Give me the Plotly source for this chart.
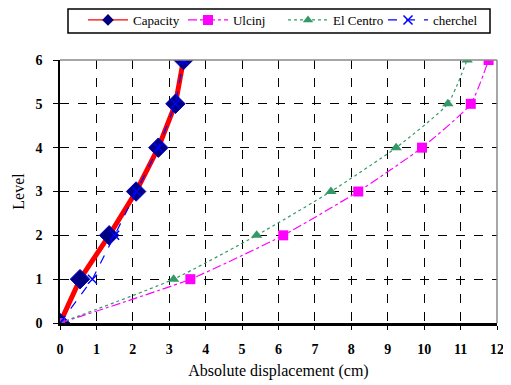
import plotly.graph_objects as go

levels = [0, 1, 2, 3, 4, 5, 6]
capacity = [0, 0.55, 1.35, 2.09, 2.7, 3.17, 3.39]
ulcinj = [0, 3.58, 6.13, 8.19, 9.94, 11.28, 11.77]
el_centro = [0, 3.12, 5.4, 7.44, 9.23, 10.65, 11.18]
cherchel = [0, 0.89, 1.5, 2.1, 2.7, 3.17, 3.39]
series_names = ["Capacity", "Ulcinj", "El Centro", "cherchel"]

x_ticks = list(range(0, 13))
y_ticks = list(range(0, 7))

font = "Liberation Serif"

styles = [
    dict(line=dict(color="#FF0000", width=5),
         marker=dict(symbol="diamond", size=15, color="#000080", line=dict(color="#0000CD", width=1))),
    dict(line=dict(color="#FF00FF", width=1.2, dash="dashdot", shape="spline", smoothing=0.5),
         marker=dict(symbol="square", size=10, color="#FF00FF")),
    dict(line=dict(color="#339966", width=1.2, dash="dot", shape="spline", smoothing=0.5),
         marker=dict(symbol="triangle-up", size=10, color="#339966")),
    dict(line=dict(color="#0000FF", width=1.2, dash="dash"),
         marker=dict(symbol="x-thin", size=9, color="#0000FF", line=dict(color="#0000FF", width=1.5))),
]
legend_styles = [
    dict(line=dict(color="#FF0000", width=1.2),
         marker=dict(symbol="diamond", size=9, color="#000080")),
    dict(line=dict(color="#FF00FF", width=1.2, dash="dashdot"),
         marker=dict(symbol="square", size=10, color="#FF00FF")),
    dict(line=dict(color="#339966", width=1.2, dash="dot"),
         marker=dict(symbol="triangle-up", size=9, color="#339966")),
    dict(line=dict(color="#0000FF", width=1.2, dash="dash"),
         marker=dict(symbol="x-thin", size=9, color="#0000FF", line=dict(color="#0000FF", width=1.5))),
]

fig = go.Figure()
for name, xs, st in zip(series_names, [capacity, ulcinj, el_centro, cherchel], styles):
    fig.add_trace(go.Scatter(x=xs, y=levels, name=name, mode="lines+markers",
                             showlegend=False, **st))
for name, st in zip(series_names, legend_styles):
    fig.add_trace(go.Scatter(x=[None], y=[None], name=name, mode="lines+markers",
                             showlegend=True, **st))

fig.update_layout(
    width=503, height=377,
    margin=dict(l=52, r=14, t=52, b=62, autoexpand=False),
    plot_bgcolor="white", paper_bgcolor="white",
    font=dict(family=font, size=14, color="black"),
    showlegend=True,
    legend=dict(orientation="h", x=0.0526, y=1.152, xanchor="left", yanchor="middle",
                borderwidth=0, bgcolor="rgba(0,0,0,0)",
                font=dict(family=font, size=13), entrywidth=45,
                itemwidth=40, tracegroupgap=0),
    xaxis=dict(range=[0, 12], tickvals=x_ticks, ticktext=[f"<b>{v}</b>" for v in x_ticks],
               tickfont=dict(family=font, size=14),
               showgrid=True, gridcolor="black", griddash="dash", gridwidth=1,
               showline=True, linecolor="black", linewidth=3,
               ticks="outside", ticklen=4, tickcolor="black", ticklabelstandoff=7,
               zeroline=False,
               title=dict(text="Absolute displacement (cm)", font=dict(family=font, size=16), standoff=10)),
    yaxis=dict(range=[0, 6], tickvals=y_ticks, ticktext=[f"<b>{v}</b>" for v in y_ticks],
               tickfont=dict(family=font, size=14),
               showgrid=True, gridcolor="black", griddash="dash", gridwidth=1,
               showline=True, linecolor="black", linewidth=1.5,
               ticks="outside", ticklen=5, tickcolor="black", ticklabelstandoff=8,
               zeroline=False,
               title=dict(text="Level", font=dict(family=font, size=16), standoff=7)),
    shapes=[
        dict(type="line", xref="paper", yref="paper", x0=0, x1=1, y0=1, y1=1,
             line=dict(color="#888888", width=1.5)),
        dict(type="line", xref="paper", yref="paper", x0=1, x1=1, y0=0, y1=1,
             line=dict(color="#888888", width=1.5)),
        dict(type="rect", xref="paper", yref="paper", x0=0.0183, x1=0.984,
             y0=1.1027, y1=1.194, line=dict(color="black", width=1.5)),
    ],
)

fig.write_html("out.html")
